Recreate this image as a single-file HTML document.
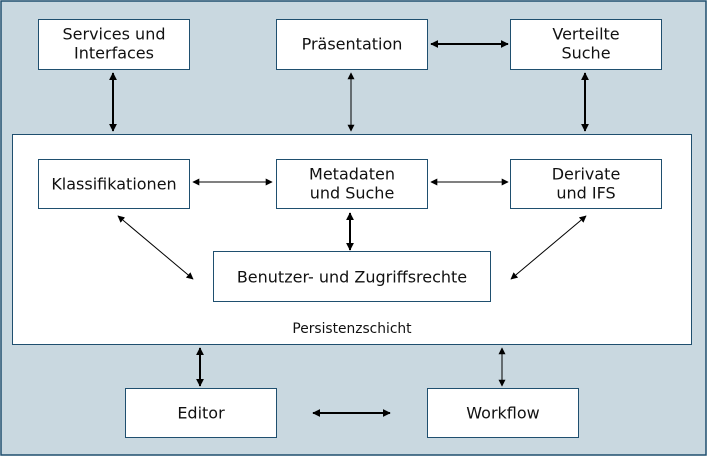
<!DOCTYPE html>
<html><head><style>
body{margin:0;width:708px;height:457px;overflow:hidden;background:#fff}
.t{font-family:"DejaVu Sans","Liberation Sans",sans-serif;fill:#111}
</style></head><body>
<svg width="708" height="457" xmlns="http://www.w3.org/2000/svg">
<defs>
<marker id="a" viewBox="0 0 10 10" refX="9" refY="5" markerWidth="4" markerHeight="4" orient="auto-start-reverse"><path d="M0,0 L10,5 L0,10 z" fill="#000"/></marker>
<marker id="b" viewBox="0 0 10 10" refX="9" refY="5" markerWidth="7" markerHeight="7" orient="auto-start-reverse"><path d="M0,0 L10,5 L0,10 z" fill="#000"/></marker>
</defs>
<rect x="1" y="1" width="705" height="454" fill="#c9d8e0" stroke="#1f4f6f" stroke-width="1.5"/>
<rect x="12.5" y="134.5" width="679" height="210" fill="#fff" stroke="#1f4f6f"/>
<g fill="#fff" stroke="#1f4f6f">
<rect x="38.5" y="19.5" width="151" height="50"/>
<rect x="276.5" y="19.5" width="151" height="50"/>
<rect x="510.5" y="19.5" width="151" height="50"/>
<rect x="38.5" y="159.5" width="151" height="49"/>
<rect x="276.5" y="159.5" width="151" height="49"/>
<rect x="510.5" y="159.5" width="151" height="49"/>
<rect x="213.5" y="251.5" width="277" height="50"/>
<rect x="125.5" y="388.5" width="151" height="49"/>
<rect x="427.5" y="388.5" width="151" height="49"/>
</g>
<g class="t" font-size="16" text-anchor="middle">
<text x="114" y="39.5">Services und</text><text x="114" y="58.5">Interfaces</text>
<text x="352" y="49.5">Präsentation</text>
<text x="586" y="39.5">Verteilte</text><text x="586" y="58.5">Suche</text>
<text x="114" y="189.5">Klassifikationen</text>
<text x="352" y="179.5">Metadaten</text><text x="352" y="198.5">und Suche</text>
<text x="586" y="179.5">Derivate</text><text x="586" y="198.5">und IFS</text>
<text x="352" y="282.5">Benutzer- und Zugriffsrechte</text>
<text x="201" y="418.5">Editor</text>
<text x="503" y="418.5">Workflow</text>
<text x="352" y="333" font-size="13.8">Persistenzschicht</text>
</g>
<g stroke="#000" fill="none">
<line x1="113" y1="73" x2="113" y2="131" stroke-width="2" marker-start="url(#a)" marker-end="url(#a)"/>
<line x1="351" y1="73" x2="351" y2="131" stroke-width="1" marker-start="url(#b)" marker-end="url(#b)"/>
<line x1="585" y1="73" x2="585" y2="131" stroke-width="2" marker-start="url(#a)" marker-end="url(#a)"/>
<line x1="431" y1="44" x2="508" y2="44" stroke-width="2" marker-start="url(#a)" marker-end="url(#a)"/>
<line x1="193" y1="182" x2="272" y2="182" stroke-width="1" marker-start="url(#b)" marker-end="url(#b)"/>
<line x1="431" y1="182" x2="508" y2="182" stroke-width="1" marker-start="url(#b)" marker-end="url(#b)"/>
<line x1="350" y1="213" x2="350" y2="250" stroke-width="2" marker-start="url(#a)" marker-end="url(#a)"/>
<line x1="118" y1="216" x2="193" y2="279" stroke-width="1" marker-start="url(#b)" marker-end="url(#b)"/>
<line x1="586" y1="216" x2="511" y2="279" stroke-width="1" marker-start="url(#b)" marker-end="url(#b)"/>
<line x1="200" y1="348" x2="200" y2="386" stroke-width="2" marker-start="url(#a)" marker-end="url(#a)"/>
<line x1="502" y1="348" x2="502" y2="386" stroke-width="1" marker-start="url(#b)" marker-end="url(#b)"/>
<line x1="313" y1="413" x2="390" y2="413" stroke-width="2" marker-start="url(#a)" marker-end="url(#a)"/>
</g>
</svg>
</body></html>
